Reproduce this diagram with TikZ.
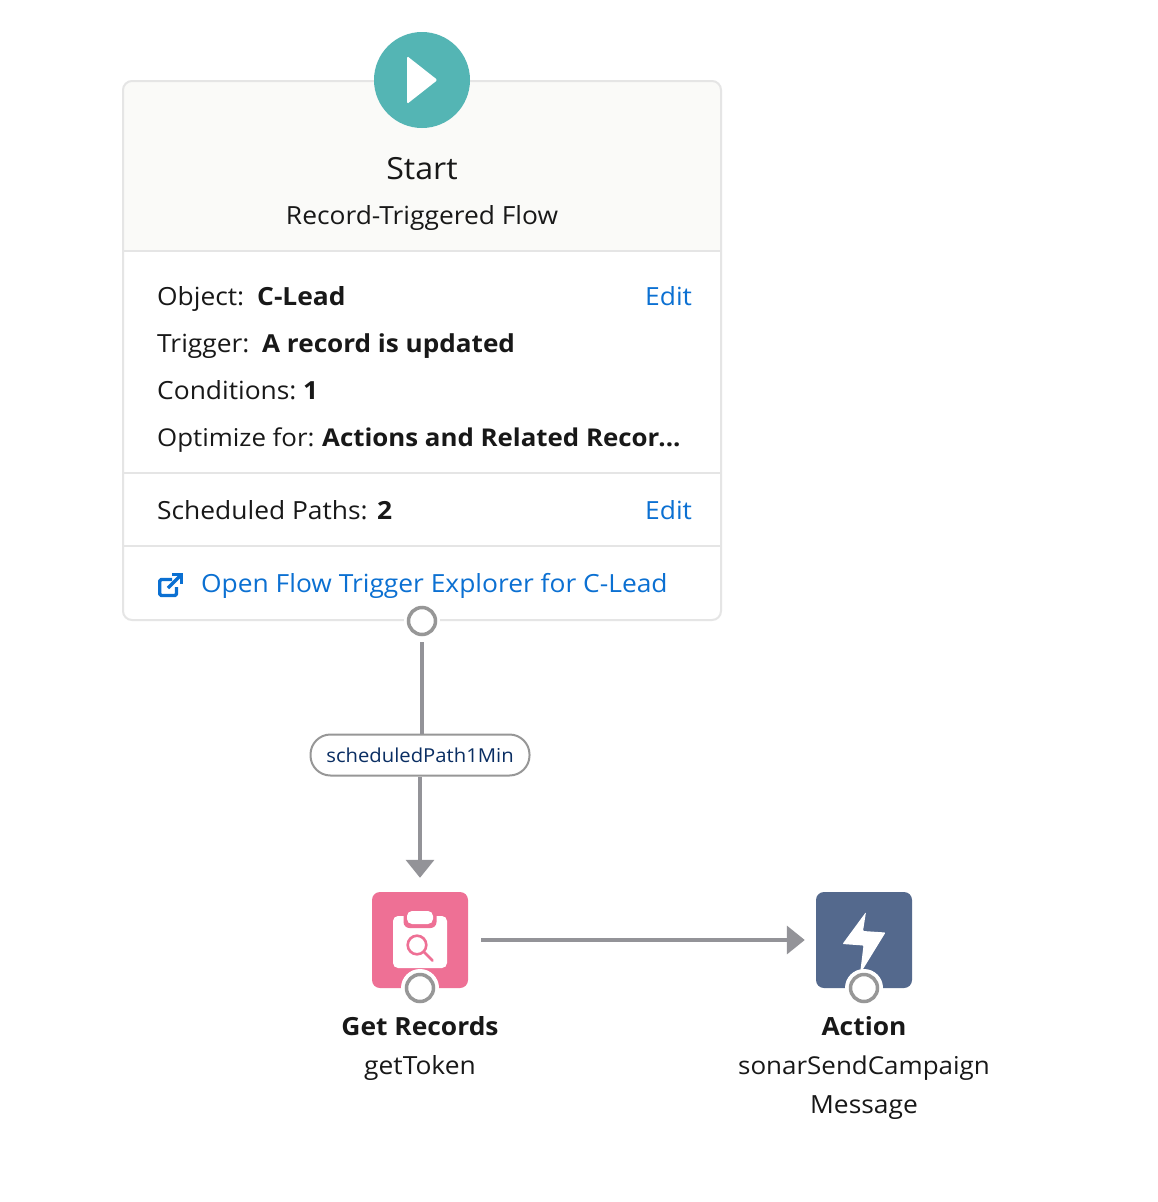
\documentclass[tikz,border=0pt]{standalone}
\usepackage{fontspec}
\setmainfont[FakeStretch=1.055]{Open Sans}
\usetikzlibrary{arrows.meta,positioning}
\definecolor{cardline}{HTML}{E5E5E5}
\definecolor{cardtop}{HTML}{FAFAF8}
\definecolor{teal}{HTML}{54B5B4}
\definecolor{pinkbox}{HTML}{EE7095}
\definecolor{bluebox}{HTML}{54698D}
\definecolor{conn}{HTML}{939398}
\definecolor{ringc}{HTML}{979797}
\definecolor{linkc}{HTML}{0B70D2}
\definecolor{ink}{HTML}{181818}
\definecolor{navy}{HTML}{0A2E63}
\tikzset{
  x=1pt,y=-1pt,
  txt/.style={inner sep=0pt,text=ink,font=\fontsize{25}{30}\selectfont,anchor=base west},
  ctr/.style={txt,anchor=base},
  bld/.style={font=\fontsize{25}{30}\selectfont\bfseries},
  lnk/.style={txt,text=linkc},
  ring/.style={circle,draw=ringc,line width=3.5pt,fill=white,minimum size=27pt,inner sep=0pt},
  halo/.style={circle,fill=white,minimum size=38pt,inner sep=0pt},
  tile/.style={rounded corners=8pt,minimum size=96pt,inner sep=0pt},
  flow/.style={draw=conn,line width=3.6pt,-{Triangle[length=18pt,width=28pt,fill=conn]}},
  plainflow/.style={draw=conn,line width=3.6pt},
  sep/.style={draw=cardline,line width=2pt}
}
\begin{document}
\begin{tikzpicture}
\useasboundingbox (0,0) rectangle (1158,1202);
% card
\fill[white] (0,0) rectangle (1158,1202);
\begin{scope}
\clip[rounded corners=9pt] (123,81) rectangle (721,620);
\fill[cardtop] (123,81) rectangle (721,251);
\end{scope}
\draw[cardline,line width=2pt,rounded corners=9pt] (123,81) rectangle (721,620);
\draw[sep] (124,251) -- (720,251);
\draw[sep] (124,473) -- (720,473);
\draw[sep] (124,546) -- (720,546);
% play
\node[circle,fill=teal,minimum size=96pt,inner sep=0pt] (play) at (422,80) {};
\fill[white,rounded corners=1.5pt] (407,56) -- (437.5,80) -- (407,104) -- cycle;
\node[ctr,font=\fontsize{30.5}{36}\selectfont] (start) at (422,179) {Start};
\node[ctr] (rtf) at (422,224) {Record-Triggered Flow};
% rows
\node[txt] (objl) at (157,305) {Object:};
\node[txt,bld] (objv) at (257,305) {C-Lead};
\node[lnk] (edit1) at (645,305) {Edit};
\node[txt] (trgl) at (157,352) {Trigger:};
\node[txt,font=\fontsize{24.75}{30}\selectfont\bfseries] (trgv) at (262,352) {A record is updated};
\node[txt] (conl) at (157,399) {Conditions:};
\node[txt,bld] (conv) at (303,399) {1};
\node[txt,font=\fontsize{24.5}{30}\selectfont] (optl) at (157,446) {Optimize for:};
\node[txt,font=\fontsize{24.5}{30}\selectfont\bfseries] (optv) at (322,446) {Actions and Related Recor\kern-1pt...};
\node[txt] (schl) at (157,519) {Scheduled Paths:};
\node[txt,bld] (schv) at (377,519) {2};
\node[lnk] (edit2) at (645,519) {Edit};
\node[lnk] (open) at (201,592) {Open Flow Trigger Explorer for C-Lead};
% external link icon
\draw[linkc,line width=3.4pt,line join=round,rounded corners=1.5pt] (172,579.5) -- (159.7,579.5) -- (159.7,595.5) -- (176.5,595.5) -- (176.5,587);
\draw[linkc,line width=3.4pt] (168,588) -- (181,575);
\draw[linkc,line width=3.4pt,line join=miter] (172,574.7) -- (181.5,574.7) -- (181.5,584);
% start ring
\node[circle,fill=white,minimum size=36pt,inner sep=0pt] at (422,621) {};
\node[ring] (r0) at (422,621) {};
% pill
\node[draw=ringc,line width=2pt,rounded corners=20pt,fill=white,minimum width=219pt,minimum height=41pt,inner sep=0pt,text=navy,font=\fontsize{19.2}{25}\selectfont] (pill) at (420,755) {\raisebox{-0.8pt}{scheduledPath1Min}};
% tiles
\node[tile,fill=pinkbox] (get) at (420,940) {};
\node[tile,fill=bluebox] (act) at (864,940) {};
% connectors
\draw[plainflow,shorten <=6pt] (r0.south) -- (r0.south |- pill.north);
\draw[flow,shorten >=14pt] (pill.south) -- (get.north);
\draw[flow,shorten <=13pt,shorten >=11pt] (get.east) -- (act.west);
% clipboard icon
\fill[white,rounded corners=5pt] (393,916) rectangle (447,968);
\fill[pinkbox,rounded corners=6pt] (403.5,906) rectangle (436.5,928);
\fill[white,rounded corners=5pt] (407,911) rectangle (433,924);
\draw[pinkbox,line width=2.6pt] (417,945) circle (9.3pt);
\draw[pinkbox,line width=2.8pt,line cap=round] (424,952) -- (432.5,960.5);
% bolt icon
\fill[white,rounded corners=1pt] (866,912) -- (842.5,944) -- (863.5,945.5) -- (860,974) -- (885.5,932.5) -- (863,931) -- cycle;
% rings on tiles
\node[halo] (h1) at (420,988) {};
\node[ring] (r1) at (420,988) {};
\node[halo] (h2) at (864,988) {};
\node[ring] (r2) at (864,988) {};
% labels
\node[ctr,bld] (l1) at (420,1035) {Get Records};
\node[ctr] (l2) at (420,1074) {getToken};
\node[ctr,bld] (l3) at (864,1035) {Action};
\node[ctr,font=\fontsize{24.6}{30}\selectfont] (l4) at (864,1074) {sonarSendCampaign};
\node[ctr] (l5) at (864,1113) {Message};
\end{tikzpicture}
\end{document}
